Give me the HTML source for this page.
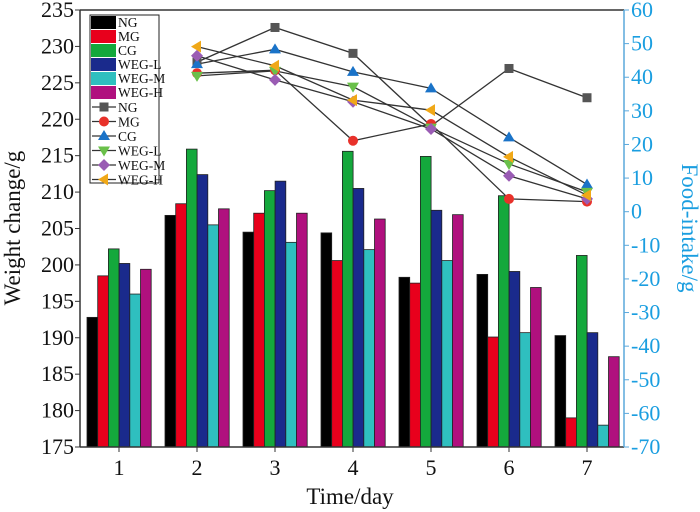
<!DOCTYPE html>
<html><head><meta charset="utf-8"><style>
body{margin:0;background:#fff}
svg{display:block;font-family:"Liberation Serif",serif}
</style></head><body>
<svg id="c" width="700" height="512" viewBox="0 0 700 512"></svg>
<script>
const days=[1,2,3,4,5,6,7];
const groups=["NG","MG","CG","WEG-L","WEG-M","WEG-H"];
const barNG=[192.8,206.8,204.5,204.4,198.3,198.7,190.3];
const barMG=[198.5,208.4,207.1,200.6,197.5,190.1,179.0];
const barCG=[202.2,215.9,210.2,215.6,214.9,209.5,201.3];
const barWL=[200.2,212.4,211.5,210.5,207.5,199.1,190.7];
const barWM=[196.0,205.5,203.1,202.1,200.6,190.7,178.0];
const barWH=[199.4,207.7,207.1,206.3,206.9,196.9,187.4];
const lineDays=[2,3,4,5,6,7];
const foodNG=[44.5,54.8,47.1,25.5,42.6,33.9];
const foodMG=[41.2,42.1,21.1,26.1,3.8,3.0];
const foodCG=[43.9,48.3,41.6,36.7,22.1,8.1];
const foodWL=[40.4,41.9,37.2,25.0,14.2,5.9];
const foodWM=[46.4,39.2,32.7,24.6,10.7,3.8];
const foodWH=[49.1,43.4,33.2,30.2,16.3,4.9];
const leftTicks=[175,180,185,190,195,200,205,210,215,220,225,230,235];
const rightTicks=[-70,-60,-50,-40,-30,-20,-10,0,10,20,30,40,50,60];

const NS="http://www.w3.org/2000/svg",svg=document.getElementById('c');
const L=80,R=624,T=10,B=447;
const yL=v=>B-(v-175)/60*(B-T);
const yR=v=>B-(v+70)/130*(B-T);
const xD=d=>119+(d-1)*78;
function mk(t,a,p){const e=document.createElementNS(NS,t);for(const k in a)e.setAttribute(k,a[k]);(p||svg).appendChild(e);return e;}
const barColors=["#000","#e8001c","#14a83c","#1a2a8c","#2fbfbf","#b0107e"];
const barSets=[barNG,barMG,barCG,barWL,barWM,barWH];
const bw=10.7;
barSets.forEach((s,gi)=>{s.forEach((v,i)=>{
  const x=xD(days[i])-32+gi*bw;
  const r=mk('rect',{x:x,y:yL(v),width:bw,height:B-yL(v),fill:barColors[gi],stroke:'#222','stroke-width':0.8});
  
  
});});
mk('line',{x1:L,y1:T,x2:R,y2:T,stroke:'#333','stroke-width':1.5});
mk('line',{x1:L,y1:T,x2:L,y2:B,stroke:'#333','stroke-width':1.5});
mk('line',{x1:L,y1:B,x2:R,y2:B,stroke:'#333','stroke-width':1.5});
mk('line',{x1:R,y1:T,x2:R,y2:B,stroke:'#5aa8dc','stroke-width':1.5});
leftTicks.forEach(v=>{
  mk('line',{x1:L-5,y1:yL(v),x2:L,y2:yL(v),stroke:'#333'});
  const t=mk('text',{x:L-6,y:yL(v)+7,'text-anchor':'end','font-size':22,fill:'#111'});t.textContent=v;
  
});
rightTicks.forEach(v=>{
  mk('line',{x1:R,y1:yR(v),x2:R+5,y2:yR(v),stroke:'#5aa8dc'});
  const t=mk('text',{x:R+7,y:yR(v)+7,'font-size':22,fill:'#1a9ee0'});t.textContent=v;
  
});
days.forEach(d=>{
  mk('line',{x1:xD(d),y1:B,x2:xD(d),y2:B+5,stroke:'#333'});
  const t=mk('text',{x:xD(d),y:B+28,'text-anchor':'middle','font-size':22,fill:'#111'});t.textContent=d;
  
});
let t=mk('text',{x:350,y:504,'text-anchor':'middle','font-size':23,fill:'#111'});t.textContent='Time/day';

t=mk('text',{x:0,y:0,transform:'translate(20,228) rotate(-90)','text-anchor':'middle','font-size':23,fill:'#111'});t.textContent='Weight change/g';

t=mk('text',{x:0,y:0,transform:'translate(682,228) rotate(90)','text-anchor':'middle','font-size':23,fill:'#1a9ee0'});t.textContent='Food-intake/g';

const lineSets=[foodNG,foodMG,foodCG,foodWL,foodWM,foodWH];
const mColors=["#555","#e8312a","#1a73c8","#6ac04a","#9a5cb4","#f0a818"];
const shapes=["sq","ci","up","dn","di","lt"];
function marker(sh,x,y,c,p){
  let e;
  if(sh=="sq")e=mk('rect',{x:x-4.5,y:y-4.5,width:9,height:9,fill:c},p);
  else if(sh=="ci")e=mk('circle',{cx:x,cy:y,r:5,fill:c},p);
  else if(sh=="up")e=mk('polygon',{points:`${x},${y-6} ${x-6},${y+4} ${x+6},${y+4}`,fill:c},p);
  else if(sh=="dn")e=mk('polygon',{points:`${x},${y+6} ${x-6},${y-4} ${x+6},${y-4}`,fill:c},p);
  else if(sh=="di")e=mk('polygon',{points:`${x},${y-6} ${x+6},${y} ${x},${y+6} ${x-6},${y}`,fill:c},p);
  else e=mk('polygon',{points:`${x-6},${y} ${x+4},${y-6} ${x+4},${y+6}`,fill:c},p);
  return e;
}
lineSets.forEach((s,gi)=>{
  const pl=mk('polyline',{points:s.map((v,i)=>xD(lineDays[i])+','+yR(v)).join(' '),fill:'none',stroke:'#333','stroke-width':1.3});
  
  
});
lineSets.forEach((s,gi)=>{s.forEach((v,i)=>{
  const m=marker(shapes[gi],xD(lineDays[i]),yR(v),mColors[gi]);
  
  
});});
const lg=mk('g',{});

mk('rect',{x:90,y:15,width:69,height:168,fill:'#fff',stroke:'#222','stroke-width':1},lg);
groups.forEach((g,i)=>{
  const y=16+i*14;
  const sw=mk('rect',{x:91,y:y,width:25,height:13,fill:barColors[i]},lg);
  
  const tx=mk('text',{x:118,y:y+11,'font-size':13.5,fill:'#111'},lg);tx.textContent=g;
  
});
groups.forEach((g,i)=>{
  const y=107+i*14.5;
  mk('line',{x1:92,y1:y,x2:116,y2:y,stroke:'#333','stroke-width':1.3},lg);
  marker(shapes[i],104,y,mColors[i],lg);
  const tx=mk('text',{x:118,y:y+5,'font-size':13.5,fill:'#111'},lg);tx.textContent=g;
  
});
</script>
</body></html>
